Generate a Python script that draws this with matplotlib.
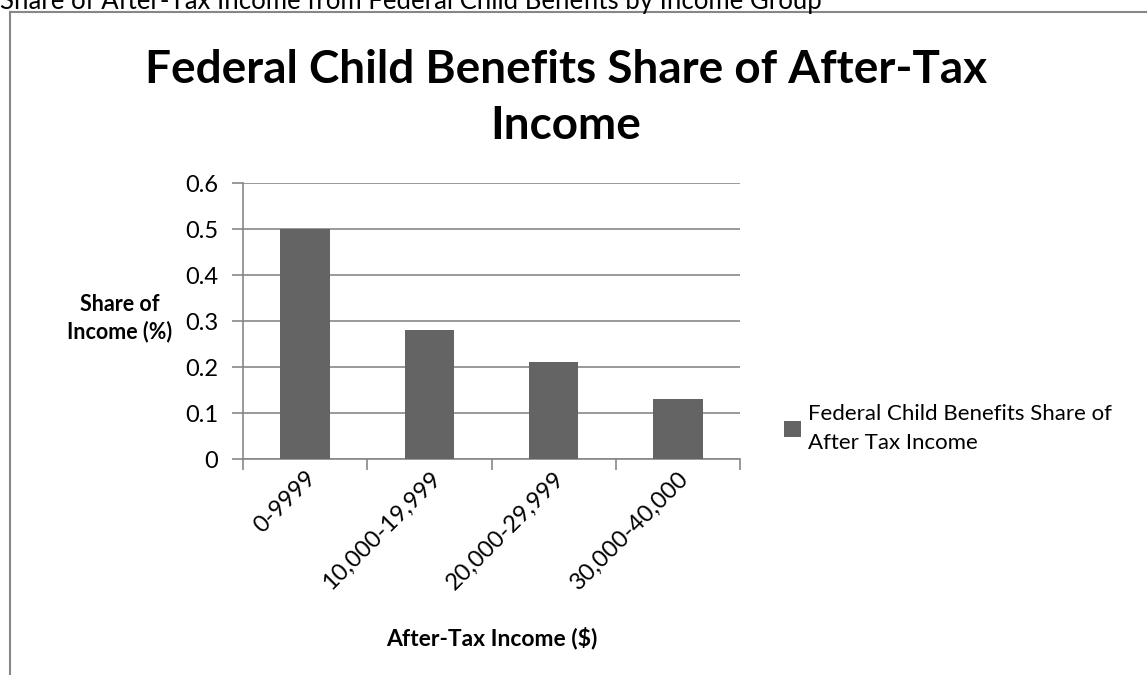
import matplotlib
matplotlib.use("Agg")
from matplotlib import pyplot as plt
from matplotlib.lines import Line2D

# data
groups = ["0-9999", "10,000-19,999", "20,000-29,999", "30,000-40,000"]
shares = [0.50, 0.28, 0.21, 0.13]
yticks = [0, 0.1, 0.2, 0.3, 0.4, 0.5, 0.6]
series_name = "Federal Child Benefits Share of\nAfter Tax Income"

plt.rcParams['font.family'] = ['Lato', 'DejaVu Sans']
grey = "#878787"

fig = plt.figure(figsize=(11.47, 6.75), dpi=100)
ax = fig.add_axes([243 / 1147, 1 - 459 / 675, 497 / 1147, 276 / 675])

x = list(range(len(groups)))
bars = ax.bar(x, shares, width=0.4, color="#646464", label=series_name, zorder=3)

ax.set_xlim(-0.5, len(groups) - 0.5)
ax.set_ylim(0, 0.6)
ax.set_yticks(yticks)
ax.set_yticklabels([f"{v:g}" for v in yticks], fontsize=17)
ax.yaxis.grid(True, color=grey, linewidth=1.2, zorder=0)
ax.tick_params(axis="y", length=8, color=grey, width=1.2, pad=10)

# x ticks at category boundaries, labels at centres
ax.set_xticks([i - 0.5 for i in range(len(groups) + 1)])
ax.set_xticklabels([])
ax.set_xticks(x, minor=True)
ax.set_xticklabels(groups, minor=True, rotation=45, ha="right",
                   rotation_mode="anchor", fontsize=17)
ax.tick_params(axis="x", which="major", length=8, color=grey, width=1.2)
ax.tick_params(axis="x", which="minor", length=0, pad=6)

for s in ["top", "right"]:
    ax.spines[s].set_visible(False)
for s in ["left", "bottom"]:
    ax.spines[s].set_color(grey)
    ax.spines[s].set_linewidth(1.2)

ax.set_xlabel("After-Tax Income ($)", fontsize=16.5, fontweight="bold", labelpad=24)
fig.text(120 / 1147, 1 - 318 / 675, "Share of\nIncome (%)", fontsize=15.5,
         fontweight="bold", ha="center", va="center", linespacing=1.3)

fig.text(566 / 1147, 1 - 98 / 675, "Federal Child Benefits Share of After-Tax\nIncome",
         fontsize=33, fontweight="bold", ha="center", va="center", linespacing=1.4)

leg = ax.legend(loc="upper left", bbox_to_anchor=(764 / 1147, 1 - 384 / 675),
                bbox_transform=fig.transFigure, frameon=False, fontsize=16,
                handlelength=0.75, handleheight=0.75, handletextpad=0.35)
leg.get_texts()[0].set_linespacing(1.55)

# outer chart border and caption above it
fig.add_artist(Line2D([10 / 1147, 1], [1 - 12 / 675, 1 - 12 / 675],
                      transform=fig.transFigure, color=grey, linewidth=1.5))
fig.add_artist(Line2D([10 / 1147, 10 / 1147], [0, 1 - 12 / 675],
                      transform=fig.transFigure, color=grey, linewidth=1.5))
fig.text(0, 1 - 1 / 675, "Share of After-Tax Income from Federal Child Benefits by Income Group",
         fontsize=18.5, ha="left", va="center")

fig.savefig("out.png", dpi=100)
